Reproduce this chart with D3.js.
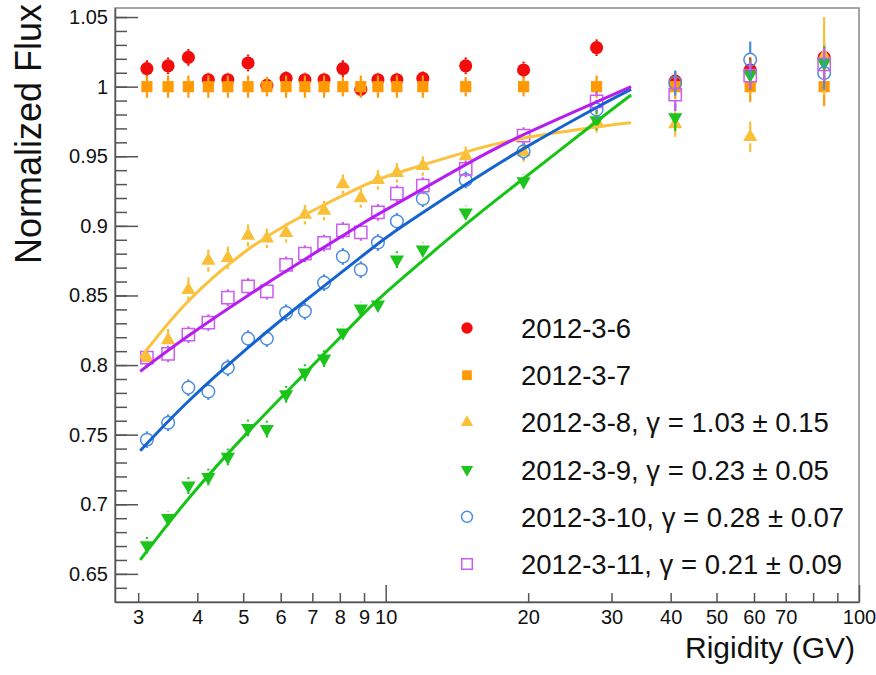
<!DOCTYPE html>
<html>
<head>
<meta charset="utf-8">
<script src="https://cdn.jsdelivr.net/npm/d3@7"></script>
<style>
  body { margin: 0; background: #fff; }
  svg { font-family: "Liberation Sans", Arial, Helvetica, sans-serif; }
</style>
</head>
<body>
<svg id="chart" width="876" height="675"></svg>
<script>
// rigidity bin centres (GV)
const rigidity = [3.13, 3.47, 3.83, 4.22, 4.64, 5.12, 5.61, 6.16, 6.75, 7.41, 8.12, 8.86, 9.63, 10.56, 11.98, 14.76, 19.56, 27.9, 40.9, 58.9, 84.4];

// normalized flux per day, and errors
const flux0306 = [1.013, 1.015, 1.021, 1.005, 1.005, 1.017, 1.001, 1.006, 1.005, 1.005, 1.013, 0.998, 1.005, 1.005, 1.006, 1.015, 1.012, 1.028, 1.004, 1.012, 1.021];
const err0306 = [0.006, 0.006, 0.006, 0.005, 0.005, 0.006, 0.005, 0.005, 0.005, 0.005, 0.006, 0.005, 0.005, 0.005, 0.005, 0.006, 0.006, 0.006, 0.007, 0.009, 0.010];
const flux0307 = [1, 1, 1, 1, 1, 1, 1, 1, 1, 1, 1, 1, 1, 1, 1, 1, 1, 1, 1, 1, 1];
const err0307 = [0.008, 0.008, 0.008, 0.008, 0.008, 0.008, 0.007, 0.008, 0.008, 0.008, 0.007, 0.008, 0.008, 0.008, 0.008, 0.007, 0.007, 0.008, 0.009, 0.011, 0.014];
const flux0308 = [0.805, 0.818, 0.854, 0.875, 0.877, 0.893, 0.891, 0.895, 0.908, 0.911, 0.930, 0.920, 0.933, 0.938, 0.943, 0.950, 0.953, 0.975, 0.973, 0.964, 1.022];
const err0308 = [0.007, 0.008, 0.009, 0.008, 0.008, 0.008, 0.007, 0.007, 0.007, 0.007, 0.007, 0.007, 0.007, 0.007, 0.007, 0.007, 0.007, 0.008, 0.009, 0.011, 0.028];
const flux0309 = [0.6705, 0.690, 0.7134, 0.7196, 0.734, 0.7548, 0.754, 0.779, 0.7945, 0.8046, 0.8233, 0.8405, 0.8434, 0.8757, 0.883, 0.9095, 0.932, 0.9758, 0.978, 1.0086, 1.017];
const err0309 = [0.006, 0.005, 0.006, 0.006, 0.006, 0.006, 0.006, 0.006, 0.006, 0.006, 0.005, 0.005, 0.005, 0.006, 0.005, 0.005, 0.005, 0.007, 0.010, 0.011, 0.012];
const flux0310 = [0.7464, 0.7586, 0.7838, 0.781, 0.798, 0.819, 0.819, 0.8376, 0.8386, 0.8592, 0.878, 0.8685, 0.888, 0.9033, 0.9195, 0.933, 0.9535, 0.9835, 1.0026, 1.0194, 1.0098];
const err0310 = [0.006, 0.006, 0.006, 0.006, 0.006, 0.006, 0.006, 0.006, 0.006, 0.006, 0.006, 0.006, 0.006, 0.006, 0.006, 0.006, 0.006, 0.007, 0.009, 0.013, 0.012];
const flux0311 = [0.8053, 0.808, 0.8218, 0.8305, 0.8484, 0.8565, 0.853, 0.872, 0.880, 0.8877, 0.8968, 0.8953, 0.9097, 0.9231, 0.9289, 0.9409, 0.9648, 0.9894, 0.9943, 1.008, 1.016];
const err0311 = [0.006, 0.006, 0.006, 0.006, 0.006, 0.006, 0.006, 0.006, 0.006, 0.006, 0.006, 0.006, 0.006, 0.006, 0.006, 0.006, 0.006, 0.007, 0.012, 0.010, 0.012];

// fitted curves
const fitRigidity = [3.03, 3.83, 5.12, 6.75, 8.86, 10.56, 14.76, 19.56, 27.9, 33.0];
const fit0308 = [0.805, 0.846, 0.883, 0.908, 0.928, 0.938, 0.953, 0.963, 0.971, 0.974];
const fit0309 = [0.660, 0.704, 0.752, 0.794, 0.835, 0.859, 0.901, 0.934, 0.975, 0.994];
const fit0310 = [0.7385, 0.774, 0.8125, 0.846, 0.8775, 0.897, 0.9297, 0.9555, 0.985, 0.998];
const fit0311 = [0.7955, 0.821, 0.850, 0.876, 0.901, 0.916, 0.944, 0.9655, 0.989, 1.0];

const labels = ["2012-3-6", "2012-3-7", "2012-3-8, γ = 1.03 ± 0.15", "2012-3-9, γ = 0.23 ± 0.05", "2012-3-10, γ = 0.28 ± 0.07", "2012-3-11, γ = 0.21 ± 0.09"];
const xTicks = [3, 4, 5, 6, 7, 8, 9, 10, 20, 30, 40, 50, 60, 70, 80, 90, 100];
const xLabeled = [3, 4, 5, 6, 7, 8, 9, 10, 20, 30, 40, 50, 60, 70, 100];
const yMajor = [0.65, 0.7, 0.75, 0.8, 0.85, 0.9, 0.95, 1, 1.05];

const svg = d3.select("#chart");
const L = 115, R = 859, T = 8, B = 602;

const x = d3.scaleLog().domain([2.68, 100]).range([L, R]);
const y = d3.scaleLinear().domain([0.6298, 1.0565]).range([B, T]);

// frame
svg.append("rect").attr("x", L).attr("y", T).attr("width", R - L).attr("height", B - T)
    .attr("fill", "none").attr("stroke", "#888").attr("stroke-width", 1.5);

// y axis
const yMinor = d3.range(64, 106).map(d => d / 100);
svg.append("g").attr("transform", `translate(${L},0)`)
    .call(d3.axisLeft(y).tickValues(yMinor).tickSize(-12).tickFormat(""))
    .call(g => g.select(".domain").remove())
    .selectAll("line").attr("stroke", "#555").attr("stroke-width", 1.5);
const yAx = svg.append("g").attr("transform", `translate(${L},0)`)
    .call(d3.axisLeft(y).tickValues(yMajor).tickSize(-23).tickSizeOuter(0).tickPadding(7)
        .tickFormat(d => String(+d.toFixed(2))));
yAx.select(".domain").attr("stroke", "#555").attr("stroke-width", 1.5);
yAx.selectAll("line").attr("stroke", "#555").attr("stroke-width", 1.5);
yAx.selectAll("text").attr("font-size", 20).attr("fill", "#111").attr("font-family", null);

// x axis
const xAx = svg.append("g").attr("transform", `translate(0,${B})`)
    .call(d3.axisBottom(x).tickValues(xTicks).tickSize(-9).tickSizeOuter(0).tickPadding(8)
        .tickFormat(d => xLabeled.includes(d) ? d : ""));
xAx.select(".domain").attr("stroke", "#555").attr("stroke-width", 1.5);
xAx.selectAll("line").attr("stroke", "#555").attr("stroke-width", 1.5)
    .filter(d => d === 10 || d === 100).attr("y2", -17);
xAx.selectAll("text").attr("font-size", 20).attr("fill", "#111").attr("font-family", null);

// titles
svg.append("text").attr("transform", "translate(41,4) rotate(-90)")
    .attr("text-anchor", "end").attr("font-size", 36).attr("fill", "#111")
    .text("Normalized Flux");
svg.append("text").attr("x", 855).attr("y", 658)
    .attr("text-anchor", "end").attr("font-size", 30).attr("fill", "#111")
    .text("Rigidity (GV)");

const series = [
  { vals: flux0306, errs: err0306, color: "#f20d0d", sym: d3.symbolCircle, size: 135, fill: true, rot: 0, half: 6.5 },
  { vals: flux0307, errs: err0307, color: "#ff9a05", sym: d3.symbolSquare, size: 125, fill: true, rot: 0, half: 5.5 },
  { vals: flux0308, errs: err0308, color: "#f9bf38", sym: d3.symbolTriangle, size: 88, fill: true, rot: 0, half: 6.5 },
  { vals: flux0309, errs: err0309, color: "#1cc41c", sym: d3.symbolTriangle, size: 88, fill: true, rot: 180, half: 6.5 },
  { vals: flux0310, errs: err0310, color: "#4c8ce0", sym: d3.symbolCircle, size: 125, fill: false, rot: 0, half: 6.3 },
  { vals: flux0311, errs: err0311, color: "#cc5cf2", sym: d3.symbolSquare, size: 150, fill: false, rot: 0, half: 6.2 }
];
const fits = [
  { vals: fit0308, color: "#fbc23e" },
  { vals: fit0309, color: "#16c416" },
  { vals: fit0310, color: "#1463cf" },
  { vals: fit0311, color: "#b61ef0" }
];

series.forEach(s => {
  const g = svg.append("g");
  const pts = rigidity.map((r, i) => ({ r: r, v: s.vals[i], e: s.errs[i] }));
  // error bars with a gap where the marker sits
  pts.forEach(p => {
    const yc = y(p.v), yt = y(p.v + p.e), yb = y(p.v - p.e);
    if (yc - s.half > yt) g.append("line").attr("x1", x(p.r)).attr("x2", x(p.r))
        .attr("y1", yt).attr("y2", yc - s.half).attr("stroke", s.color).attr("stroke-width", 2.2);
    if (yb > yc + s.half) g.append("line").attr("x1", x(p.r)).attr("x2", x(p.r))
        .attr("y1", yc + s.half).attr("y2", yb).attr("stroke", s.color).attr("stroke-width", 2.2);
  });
  g.selectAll("path.mark").data(pts).enter().append("path").attr("class", "mark")
    .attr("d", d3.symbol().type(s.sym).size(s.size))
    .attr("transform", d => `translate(${x(d.r)},${y(d.v)}) rotate(${s.rot})`)
    .attr("fill", s.fill ? s.color : "none")
    .attr("stroke", s.fill ? "none" : s.color)
    .attr("stroke-width", 1.5);
});

const line = d3.line().x((d, i) => x(fitRigidity[i])).y(d => y(d)).curve(d3.curveNatural);
fits.forEach(f => {
  svg.append("path").attr("d", line(f.vals)).attr("fill", "none")
    .attr("stroke", f.color).attr("stroke-width", 3);
});

// legend
const leg = svg.append("g");
series.forEach((s, i) => {
  const cy = 328 + i * 47.2;
  leg.append("path").attr("d", d3.symbol().type(s.sym).size(s.size * 0.75))
    .attr("transform", `translate(467,${cy}) rotate(${s.rot})`)
    .attr("fill", s.fill ? s.color : "none")
    .attr("stroke", s.fill ? "none" : s.color).attr("stroke-width", 1.5);
  leg.append("text").attr("x", 521).attr("y", cy + 10)
    .attr("font-size", 27.5).attr("fill", "#111").text(labels[i]);
});
</script>
</body>
</html>
